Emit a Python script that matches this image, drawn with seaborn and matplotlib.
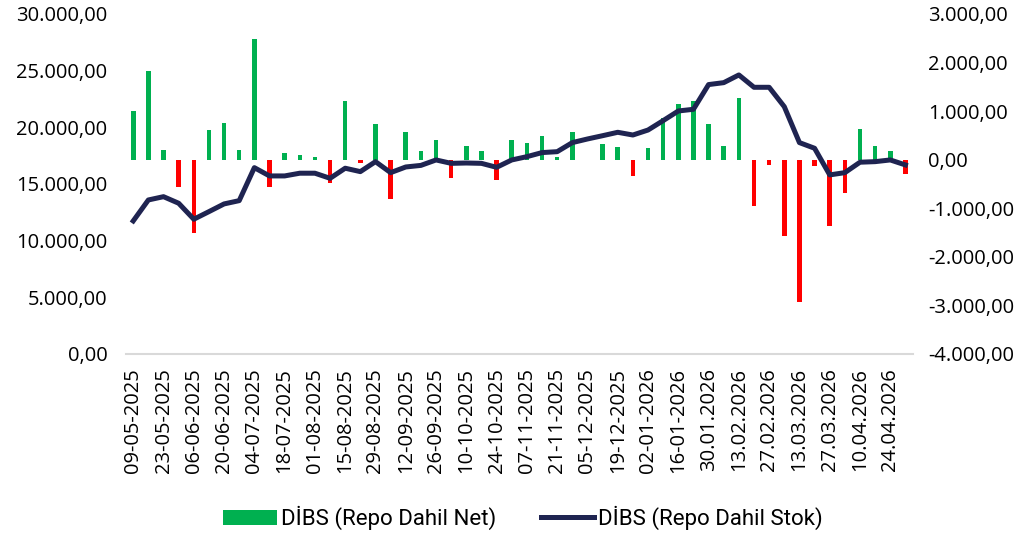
import matplotlib
matplotlib.use("Agg")
import matplotlib.pyplot as plt
import matplotlib.ticker as mticker
from matplotlib.patches import Patch
from matplotlib.lines import Line2D
import numpy as np
import pandas as pd
import seaborn as sns

# weekly dates
dates = [
    "09-05-2025", "16-05-2025", "23-05-2025", "30-05-2025", "06-06-2025", "13-06-2025",
    "20-06-2025", "27-06-2025", "04-07-2025", "11-07-2025", "18-07-2025", "25-07-2025",
    "01-08-2025", "08-08-2025", "15-08-2025", "22-08-2025", "29-08-2025", "05-09-2025",
    "12-09-2025", "19-09-2025", "26-09-2025", "03-10-2025", "10-10-2025", "17-10-2025",
    "24-10-2025", "31-10-2025", "07-11-2025", "14-11-2025", "21-11-2025", "28-11-2025",
    "05-12-2025", "12-12-2025", "19-12-2025", "26-12-2025", "02-01-2026", "09-01-2026",
    "16-01-2026", "23-01-2026", "30.01.2026", "06.02.2026", "13.02.2026", "20.02.2026",
    "27.02.2026", "06.03.2026", "13.03.2026", "20.03.2026", "27.03.2026", "03.04.2026",
    "10.04.2026", "17.04.2026", "24.04.2026", "01.05.2026",
]

# DİBS (Repo Dahil Net) - right axis
net = [
    1000, 1835, 195, -570, -1500, 620, 760, 195, 2485, -570, 135, 95,
    55, -485, 1200, -70, 730, -815, 580, 180, 415, -380, 290, 185,
    -420, 400, 350, 495, 55, 580, -15, 325, 270, -340, 240, 850,
    1150, 1210, 740, 275, 1275, -960, -110, -1580, -2925, -130, -1375, -690,
    640, 280, 180, -300,
]

# DİBS (Repo Dahil Stok) - left axis
stock = [
    11740, 13590, 13880, 13300, 11890, 12560, 13240, 13530, 16440, 15710, 15710, 15950,
    15950, 15500, 16390, 16090, 16970, 16000, 16500, 16640, 17120, 16820, 16850, 16820,
    16470, 17120, 17410, 17770, 17850, 18650, 18970, 19260, 19560, 19320, 19760, 20590,
    21440, 21590, 23770, 23940, 24620, 23530, 23530, 21820, 18650, 18150, 15800, 16000,
    16920, 16970, 17120, 16680,
]

green = "#00B050"
red = "#FF0000"
navy = "#1F2451"

df = pd.DataFrame({"date": dates, "net": net, "stock": stock})
df["pos"] = np.arange(len(df))
df["sign"] = np.where(df["net"] >= 0, "pos", "neg")

tick_font = "Open Sans"
leg_font = ["Roboto", "DejaVu Sans"]


def tr_fmt(v, _):
    s = f"{abs(v):,.2f}".replace(",", "X").replace(".", ",").replace("X", ".")
    return ("-" if v < 0 else "") + s


fig = plt.figure(figsize=(10.3, 5.37), dpi=100)
ax = fig.add_axes([0.122, 0.3408, 0.7644, 0.6332])
ax_bar = ax.twinx()

sns.barplot(data=df, x="date", y="net", hue="sign",
            palette={"pos": green, "neg": red}, dodge=False, width=0.3,
            saturation=1, legend=False, ax=ax_bar)
sns.lineplot(data=df, x="pos", y="stock", color=navy, lw=3.6, ax=ax)

ax.set_zorder(ax_bar.get_zorder() + 1)
ax.patch.set_visible(False)

ax.set_xlim(-0.5, len(df) - 0.5)
ax.set_ylim(0, 30000)
ax.set_yticks(np.arange(0, 30001, 5000))
ax_bar.set_ylim(-4000, 3000)
ax_bar.set_yticks(np.arange(-4000, 3001, 1000))
ax.yaxis.set_major_formatter(mticker.FuncFormatter(tr_fmt))
ax_bar.yaxis.set_major_formatter(mticker.FuncFormatter(tr_fmt))

ax.set_xticks(df["pos"][::2])
ax.set_xticklabels(df["date"][::2], rotation=90)

for a in (ax, ax_bar):
    a.set_xlabel("")
    a.set_ylabel("")
    for sp in a.spines.values():
        sp.set_visible(False)
    a.grid(False)
ax.spines["bottom"].set_visible(True)
ax.spines["bottom"].set_color("#D9D9D9")
ax.spines["bottom"].set_linewidth(1.5)

ax.tick_params(axis="y", length=0, pad=13, labelsize=14.5)
ax_bar.tick_params(axis="y", length=0, pad=11, labelsize=14.5)
ax.tick_params(axis="x", length=0, pad=10, labelsize=14.5)
for lab in ax.get_xticklabels() + ax.get_yticklabels() + ax_bar.get_yticklabels():
    lab.set_fontfamily(tick_font)
    lab.set_color("black")

handles = [
    Patch(facecolor=green, edgecolor="none"),
    Line2D([0], [0], color=navy, lw=3.6),
]
fig.legend(handles, ["DİBS (Repo Dahil Net)", "DİBS (Repo Dahil Stok)"],
           loc="center", bbox_to_anchor=(0.508, 0.035), ncol=2, frameon=False,
           prop={"family": leg_font, "size": 16}, handlelength=2.4,
           handletextpad=0.2, columnspacing=2.0)

fig.savefig("out.png", dpi=100)
